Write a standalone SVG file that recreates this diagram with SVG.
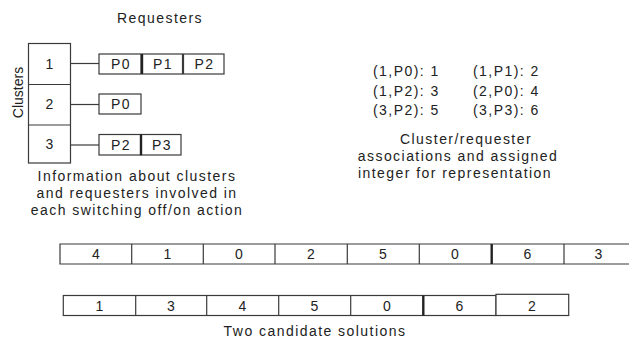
<svg xmlns="http://www.w3.org/2000/svg" width="629" height="342" viewBox="0 0 629 342">
<style>
text{font-family:"Liberation Sans",Arial,sans-serif;font-size:14px;fill:#222;letter-spacing:1.45px}
.c{text-anchor:middle}
.box{fill:#fff;stroke:#3a3a3a;stroke-width:1.2}
.ln{stroke:#3a3a3a;stroke-width:1.2;fill:none}
.tk{stroke:#222;stroke-width:2.4}
</style>
<rect width="629" height="342" fill="#fff"/>
<text class="c" x="160" y="23">Requesters</text>
<text class="c" style="letter-spacing:0" transform="translate(23,92.5) rotate(-90)">Clusters</text>
<g id="clusters">
<rect class="box" x="28.5" y="43.5" width="42" height="119.5"/>
<line class="ln" x1="28.5" y1="84.5" x2="70.5" y2="84.5"/>
<line class="ln" x1="28.5" y1="125" x2="70.5" y2="125"/>
<text class="c" x="50" y="68.5">1</text>
<text class="c" x="50" y="108.5">2</text>
<text class="c" x="50" y="148.5">3</text>
</g>
<g id="connectors">
<line class="ln" x1="70.5" y1="63.5" x2="99" y2="63.5"/>
<line class="ln" x1="70.5" y1="104.5" x2="99" y2="104.5"/>
<line class="ln" x1="70.5" y1="145" x2="99" y2="145"/>
</g>
<g id="req1">
<rect class="box" x="99" y="54" width="42" height="20"/>
<rect class="box" x="142" y="54" width="40.5" height="20"/>
<rect class="box" x="183.5" y="54" width="40.5" height="20"/>
<line class="tk" x1="142" y1="54" x2="142" y2="74"/>
<text class="c" x="121" y="68.5">P0</text>
<text class="c" x="163" y="68.5">P1</text>
<text class="c" x="204.5" y="68.5">P2</text>
</g>
<g id="req2">
<rect class="box" x="99" y="94" width="42" height="20"/>
<text class="c" x="121" y="108.5">P0</text>
</g>
<g id="req3">
<rect class="box" x="99" y="134.5" width="42" height="20.5"/>
<rect class="box" x="141" y="134.5" width="40" height="20.5"/>
<line class="tk" x1="141" y1="134.5" x2="141" y2="155"/>
<text class="c" x="121" y="149.5">P2</text>
<text class="c" x="162" y="149.5">P3</text>
</g>
<g id="caption-left">
<text class="c" x="137" y="181">Information about clusters</text>
<text class="c" x="137" y="198">and requesters involved in</text>
<text class="c" x="137" y="215">each switching off/on action</text>
</g>
<g id="table">
<text x="373" y="76">(1,P0): 1</text>
<text x="473" y="76">(1,P1): 2</text>
<text x="373" y="95.5">(1,P2): 3</text>
<text x="473" y="95.5">(2,P0): 4</text>
<text x="373" y="115">(3,P2): 5</text>
<text x="473" y="115">(3,P3): 6</text>
</g>
<g id="caption-right">
<text class="c" x="466" y="144">Cluster/requester</text>
<text class="c" x="458" y="161">associations and assigned</text>
<text class="c" x="455" y="178">integer for representation</text>
</g>
<g id="solution1">
<path class="ln" d="M629,244 H60 V264 H629"/>
<line class="ln" x1="131.7" y1="244" x2="131.7" y2="264"/>
<line class="ln" x1="203.3" y1="244" x2="203.3" y2="264"/>
<line class="ln" x1="275" y1="244" x2="275" y2="264"/>
<line class="ln" x1="347.3" y1="244" x2="347.3" y2="264"/>
<line class="ln" x1="419.3" y1="244" x2="419.3" y2="264"/>
<line class="tk" x1="491.7" y1="244" x2="491.7" y2="264"/>
<line class="ln" x1="564" y1="244" x2="564" y2="264"/>
<text class="c" x="96.5" y="259">4</text>
<text class="c" x="168" y="259">1</text>
<text class="c" x="239.5" y="259">0</text>
<text class="c" x="311.5" y="259">2</text>
<text class="c" x="383.5" y="259">5</text>
<text class="c" x="455.5" y="259">0</text>
<text class="c" x="528" y="259">6</text>
<text class="c" x="599" y="259">3</text>
</g>
<g id="solution2">
<rect class="box" x="63.3" y="295.5" width="432.7" height="20"/>
<line class="ln" x1="135.7" y1="295.5" x2="135.7" y2="315.5"/>
<line class="ln" x1="206.7" y1="295.5" x2="206.7" y2="315.5"/>
<line class="ln" x1="278.7" y1="295.5" x2="278.7" y2="315.5"/>
<line class="ln" x1="350.7" y1="295.5" x2="350.7" y2="315.5"/>
<line class="tk" x1="423.3" y1="295.5" x2="423.3" y2="315.5"/>
<rect class="box" x="496" y="294.3" width="72.7" height="21.2"/>
<text class="c" x="100" y="310.5">1</text>
<text class="c" x="171.5" y="310.5">3</text>
<text class="c" x="243" y="310.5">4</text>
<text class="c" x="315" y="310.5">5</text>
<text class="c" x="387.5" y="310.5">0</text>
<text class="c" x="460" y="310.5">6</text>
<text class="c" x="532.5" y="310.5">2</text>
</g>
<text class="c" x="315" y="336">Two candidate solutions</text>
</svg>
